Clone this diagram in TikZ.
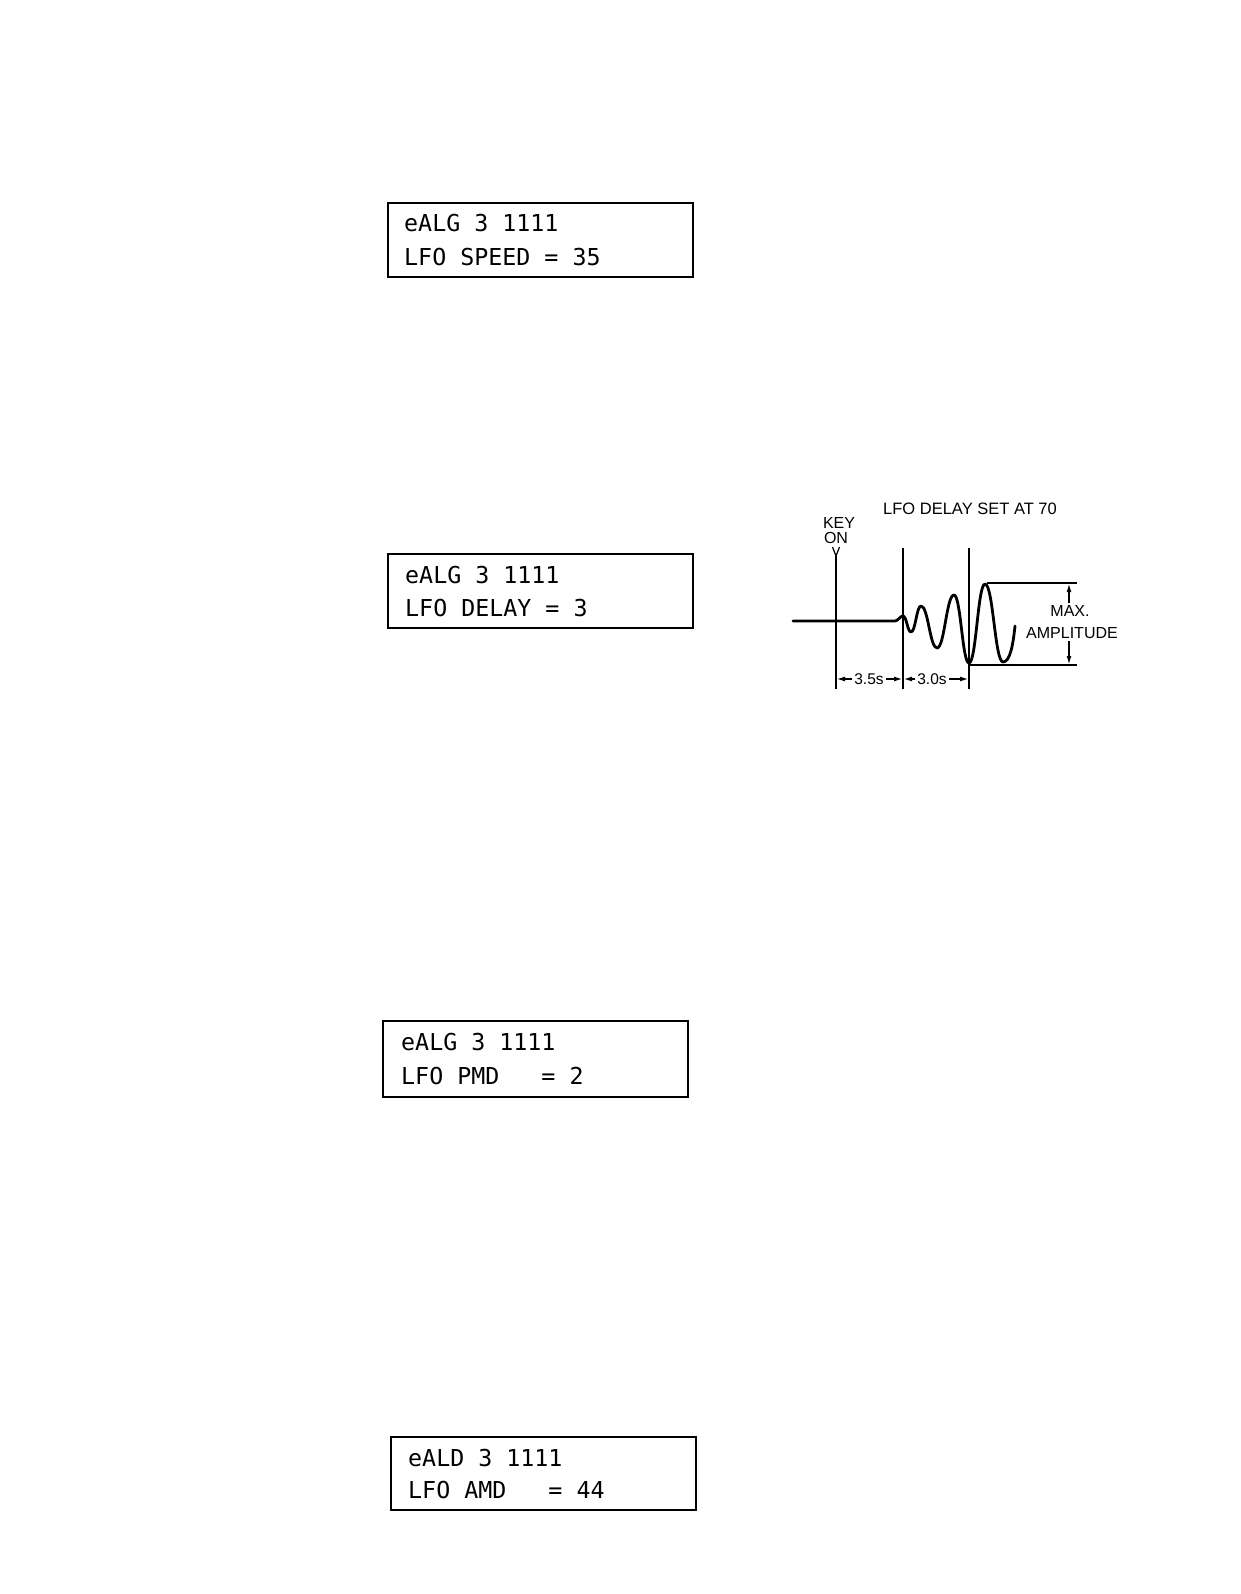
\documentclass[tikz,border=0pt]{standalone}
\usepackage{fontspec}
\setmainfont{Liberation Sans}
\newfontfamily\lcdfont{DejaVu Sans Mono}
\usetikzlibrary{arrows.meta}
\begin{document}
\begin{tikzpicture}[x=1pt,y=-1pt,
  lcdbox/.style={draw, line width=1.8pt, minimum width=305pt, minimum height=74pt, anchor=north west, inner sep=0pt},
  lcdtext/.style={anchor=base west, inner sep=0pt, font=\lcdfont\fontsize{23.3}{28}\selectfont},
  lbl/.style={inner sep=0pt, font=\fontsize{16}{19}\selectfont},
  dimlbl/.style={inner sep=0pt, font=\fontsize{15.5}{18}\selectfont},
  thin line/.style={line width=1.2pt},
  dimarrow/.style={line width=1.1pt, -{Latex[length=8pt,width=5pt]}},
  wave/.style={line width=2.8pt, line join=round, line cap=round}]
\fill[white] (0,0) rectangle (1240,1594);
\useasboundingbox (0,0) rectangle (1240,1594);

% ---- LCD display boxes ----
\node[lcdbox] (box1) at (387,202) {};
\node[lcdtext] (b1l1) at (404,232) {eALG~3~1111};
\node[lcdtext] (b1l2) at (404,266) {LFO~SPEED~=~35};

\node[lcdbox] (box2) at (387,553) {};
\node[lcdtext] (b2l1) at (405,583) {eALG~3~1111};
\node[lcdtext] (b2l2) at (405,616) {LFO~DELAY~=~3};

\node[lcdbox, minimum height=76pt] (box3) at (382,1020) {};
\node[lcdtext] (b3l1) at (401,1050) {eALG~3~1111};
\node[lcdtext] (b3l2) at (401,1084) {LFO~PMD~~~=~2};

\node[lcdbox, minimum height=73pt] (box4) at (390,1436) {};
\node[lcdtext] (b4l1) at (408,1466) {eALD~3~1111};
\node[lcdtext] (b4l2) at (408,1498) {LFO~AMD~~~=~44};

% ---- LFO delay diagram ----
\node[lbl, font=\fontsize{16.5}{19}\selectfont, anchor=base] (title) at (970,514) {LFO DELAY SET AT 70};
\node[lbl, anchor=base] (key) at (839,528) {KEY};
\node[lbl, anchor=base] (on) at (836,543) {ON};

% vertical marker lines
\coordinate (ky) at (836,556);
\coordinate (kb) at (836,689);
\coordinate (m2t) at (903,548);
\coordinate (m2b) at (903,689);
\coordinate (m3t) at (969,548);
\coordinate (m3b) at (969,689);
\draw[thin line] (832.5,547) -- (ky) -- (839.5,547);
\draw[thin line] (ky) -- (kb);
\draw[thin line] (m2t) -- (m2b);
\draw[thin line] (m3t) -- (m3b);

% waveform
\draw[wave] (793,621) -- (895,621)
  .. controls (898,621) and (900,616) .. (903,616)
  .. controls (906.6,616) and (907.4,632) .. (911,632)
  .. controls (915.5,632) and (916.5,606) .. (921,606)
  .. controls (928.2,606) and (929.8,648) .. (937,648)
  .. controls (944.6,648) and (946.4,595) .. (954,595)
  .. controls (960.75,595) and (962.25,663) .. (969,663)
  .. controls (976.2,663) and (977.8,584) .. (985,584)
  .. controls (993.1,584) and (994.9,662) .. (1003,662)
  .. controls (1010,662) and (1013,645) .. (1015,626);

% max amplitude
\coordinate (topl) at (987,583);
\coordinate (topr) at (1077,583);
\coordinate (botl) at (969,665);
\coordinate (botr) at (1077,665);
\draw[thin line] (topl) -- (topr);
\draw[thin line] (botl) -- (botr);
\node[lbl, anchor=center] (max) at (1070,611) {MAX.};
\node[lbl, anchor=center] (ampl) at (1072,633) {AMPLITUDE};
\draw[dimarrow] (max.north -| 1069,0) ++(0,-2) -- (1069,584);
\draw[dimarrow] (ampl.south -| 1069,0) ++(0,2) -- (1069,664);

% time dimensions
\node[dimlbl, anchor=center] (d1) at (869,679) {3.5s};
\node[dimlbl, anchor=center] (d2) at (932,679) {3.0s};
\draw[dimarrow] (d1.west) ++(-2,0) -- (837,679);
\draw[dimarrow] (d1.east) ++(2,0) -- (902,679);
\draw[dimarrow] (d2.west) ++(-2,0) -- (904,679);
\draw[dimarrow] (d2.east) ++(2,0) -- (968,679);
\end{tikzpicture}
\end{document}
